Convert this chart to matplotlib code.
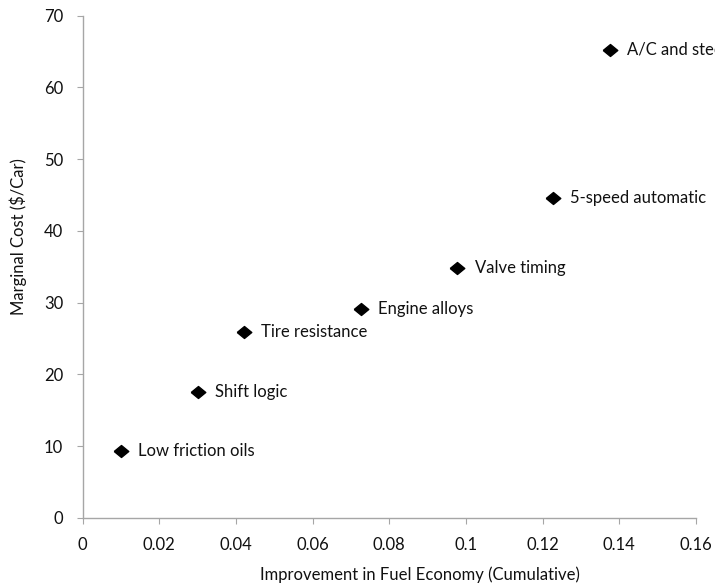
import matplotlib
matplotlib.use("Agg")
import matplotlib.pyplot as plt

# fuel economy measures, cumulative gain vs. marginal cost
measures = ["Low friction oils", "Shift logic", "Tire resistance", "Engine alloys",
            "Valve timing", "5-speed automatic", "A/C and steering"]
improvement = [0.010, 0.030, 0.042, 0.0725, 0.0977, 0.1227, 0.1376]
cost = [9.4, 17.5, 25.9, 29.1, 34.8, 44.6, 65.2]

x_ticks = [0, 0.02, 0.04, 0.06, 0.08, 0.1, 0.12, 0.14, 0.16]
x_tick_labels = ["0", "0.02", "0.04", "0.06", "0.08", "0.1", "0.12", "0.14", "0.16"]
y_ticks = [0, 10, 20, 30, 40, 50, 60, 70]

plt.rcParams["font.family"] = ["Lato", "DejaVu Sans"]

W, H = 715, 585
fig = plt.figure(figsize=(W / 100, H / 100), dpi=100)
ax = fig.add_axes([82.7 / W, 1 - 518 / H, (696 - 82.7) / W, (518 - 15.7) / H])

# slightly flattened diamond
diamond = [(-1, 0), (0, 0.82), (1, 0), (0, -0.82), (-1, 0)]
ax.plot(improvement, cost, linestyle="none", marker=diamond, markersize=10.5,
        color="black", clip_on=False)
for name, x, y in zip(measures, improvement, cost):
    ax.annotate(name, (x, y), xytext=(12.5, 0), textcoords="offset points",
                va="center", ha="left", fontsize=12, color="#111111",
                annotation_clip=False)

ax.set_xlim(0, 0.16)
ax.set_ylim(0, 70)
ax.set_xticks(x_ticks)
ax.set_xticklabels(x_tick_labels)
ax.set_yticks(y_ticks)

for side in ("top", "right"):
    ax.spines[side].set_visible(False)
for side in ("left", "bottom"):
    ax.spines[side].set_color("#a6a6a6")
    ax.spines[side].set_linewidth(1.0)
ax.tick_params(direction="out", length=4, color="#a6a6a6", labelsize=12,
               labelcolor="#111111", pad=10)

fig.text(420 / W, 1 - 575 / H, "Improvement in Fuel Economy (Cumulative)",
         fontsize=12, color="#111111", ha="center", va="center")
fig.text(18 / W, 1 - 237 / H, "Marginal Cost (\\$/Car)", fontsize=12,
         color="#111111", ha="center", va="center", rotation=90)

fig.savefig("out.png", dpi=100)
